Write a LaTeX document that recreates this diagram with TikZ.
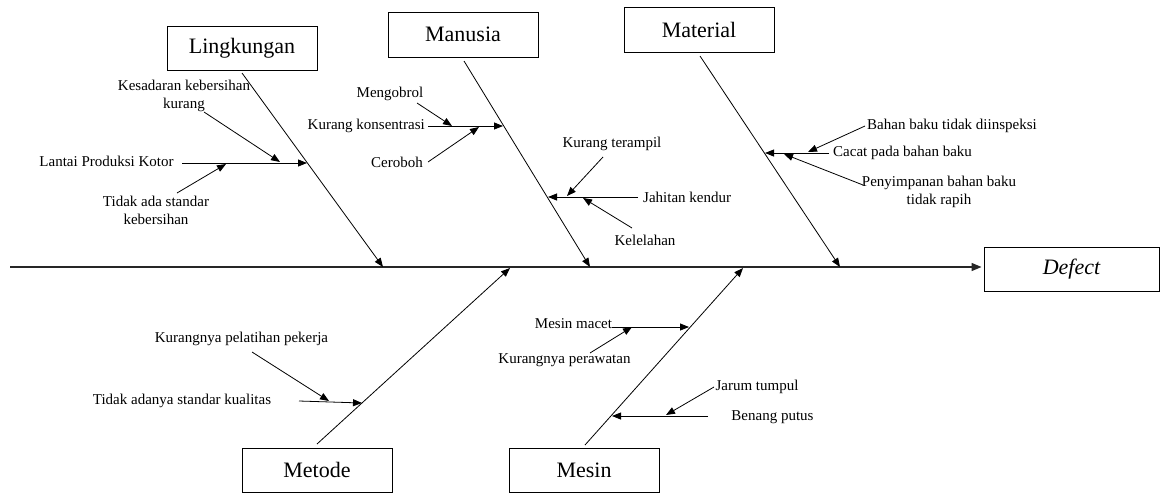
\documentclass[tikz,border=0pt]{standalone}
\usepackage{fontspec}
\setmainfont{Liberation Serif}
\usetikzlibrary{arrows.meta}
\begin{document}
\begin{tikzpicture}[x=1pt,y=-1pt,
  lbl/.style={font=\fontsize{15}{18}\selectfont, inner sep=0pt, align=center},
  cat/.style={draw, line width=0.9pt, minimum width=150pt, minimum height=44pt,
              inner sep=0pt, font=\fontsize{22}{24}\selectfont},
  arr/.style={line width=0.8pt, -{Triangle[length=9pt,width=7pt]}},
  spine/.style={line width=1.3pt, draw=black!85, -{Triangle[length=10pt,width=8pt]}}
]
\useasboundingbox (0,0) rectangle (1161,493);

% category boxes and effect
\node[cat] (ling) at (242,48) {Lingkungan};
\node[cat, minimum height=45pt] (manu) at (463,34.5) {Manusia};
\node[cat, minimum height=45pt] (mate) at (699,29.5) {Material};
\node[cat] (meto) at (317,470) {Metode};
\node[cat] (mesi) at (584,470) {Mesin};
\node[cat, minimum width=175pt] (defect) at (1071.5,269) {\itshape Defect};

% spine
\coordinate (spS) at (10,267);
\draw[spine, shorten >=2pt] (spS) -- (spS -| defect.west);

% main bones
\coordinate (lingS) at (242,73);   \coordinate (lingE) at (383,267);
\coordinate (manuS) at (464,61);   \coordinate (manuE) at (590,267);
\coordinate (mateS) at (700,56);   \coordinate (mateE) at (840,267);
\coordinate (metoS) at (317,444);  \coordinate (metoE) at (510,268);
\coordinate (mesiS) at (585,445);  \coordinate (mesiE) at (743,268);
\draw[arr] (lingS) -- (lingE);
\draw[arr] (manuS) -- (manuE);
\draw[arr] (mateS) -- (mateE);
\draw[arr] (metoS) -- (metoE);
\draw[arr] (mesiS) -- (mesiE);

% ---- Lingkungan
\node[lbl] (lantai) at (106.5,161) {Lantai Produksi Kotor};
\node[lbl] (sadar) at (184,96) {Kesadaran kebersihan\\kurang};
\node[lbl] (stdb) at (156,210) {Tidak ada standar\\kebersihan};
\coordinate (lantaiS) at (182,163); \coordinate (lantaiT) at (307,163);
\coordinate (sadarS) at (204,112);  \coordinate (sadarT) at (280,162);
\coordinate (stdbS) at (177,193);   \coordinate (stdbT) at (226,164);
\draw[arr] (lantaiS) -- (lantaiT);
\draw[arr] (sadarS) -- (sadarT);
\draw[arr] (stdbS) -- (stdbT);

% ---- Manusia
\node[lbl, anchor=east] (konsen) at (425,126) {Kurang konsentrasi};
\node[lbl] (ngobrol) at (390,94) {Mengobrol};
\node[lbl, anchor=east] (ceroboh) at (423,162) {Ceroboh};
\node[lbl, anchor=west] (jahit) at (643,197) {Jahitan kendur};
\node[lbl] (terampil) at (612,144) {Kurang terampil};
\node[lbl] (lelah) at (645,240) {Kelelahan};
\coordinate (konsenS) at (428,126);  \coordinate (konsenT) at (503,126);
\coordinate (ngobrolS) at (417,103); \coordinate (ngobrolT) at (452,126);
\coordinate (cerobohS) at (428,162); \coordinate (cerobohT) at (479,127);
\coordinate (jahitS) at (638,197);   \coordinate (jahitT) at (548,197);
\coordinate (terampilS) at (603,157);\coordinate (terampilT) at (567,196);
\coordinate (lelahS) at (632,228);   \coordinate (lelahT) at (583,198);
\draw[arr] (konsenS) -- (konsenT);
\draw[arr] (ngobrolS) -- (ngobrolT);
\draw[arr] (cerobohS) -- (cerobohT);
\draw[arr] (jahitS) -- (jahitT);
\draw[arr] (terampilS) -- (terampilT);
\draw[arr] (lelahS) -- (lelahT);

% ---- Material
\node[lbl, anchor=west] (cacat) at (833,153) {Cacat pada bahan baku};
\node[lbl, anchor=west] (inspeksi) at (867,126) {Bahan baku tidak diinspeksi};
\node[lbl] (simpan) at (939,192) {Penyimpanan bahan baku\\tidak rapih};
\coordinate (cacatS) at (829,153);    \coordinate (cacatT) at (765,153);
\coordinate (inspeksiS) at (865,126); \coordinate (inspeksiT) at (808,152);
\coordinate (simpanS) at (863,185);   \coordinate (simpanT) at (784,154);
\draw[arr] (cacatS) -- (cacatT);
\draw[arr] (inspeksiS) -- (inspeksiT);
\draw[arr] (simpanS) -- (simpanT);

% ---- Metode
\node[lbl] (kualitas) at (182,401) {Tidak adanya standar kualitas};
\node[lbl] (latih) at (241.5,339) {Kurangnya pelatihan pekerja};
\coordinate (kualitasS) at (299,401); \coordinate (kualitasT) at (362,403);
\coordinate (latihS) at (252,352);    \coordinate (latihT) at (329,401);
\draw[arr] (kualitasS) -- (kualitasT);
\draw[arr] (latihS) -- (latihT);

% ---- Mesin
\node[lbl] (macet) at (573.5,324) {Mesin macet};
\node[lbl] (rawat) at (564.5,360) {Kurangnya perawatan};
\node[lbl] (benang) at (772.5,417) {Benang putus};
\node[lbl] (jarum) at (757,387) {Jarum tumpul};
\coordinate (macetS) at (612,327);  \coordinate (macetT) at (689,327);
\coordinate (rawatS) at (590,353);  \coordinate (rawatT) at (632,327);
\coordinate (benangS) at (708,416); \coordinate (benangT) at (612,416);
\coordinate (jarumS) at (714,387);  \coordinate (jarumT) at (666,415);
\draw[arr] (macetS) -- (macetT);
\draw[arr] (rawatS) -- (rawatT);
\draw[arr] (benangS) -- (benangT);
\draw[arr] (jarumS) -- (jarumT);
\end{tikzpicture}
\end{document}
